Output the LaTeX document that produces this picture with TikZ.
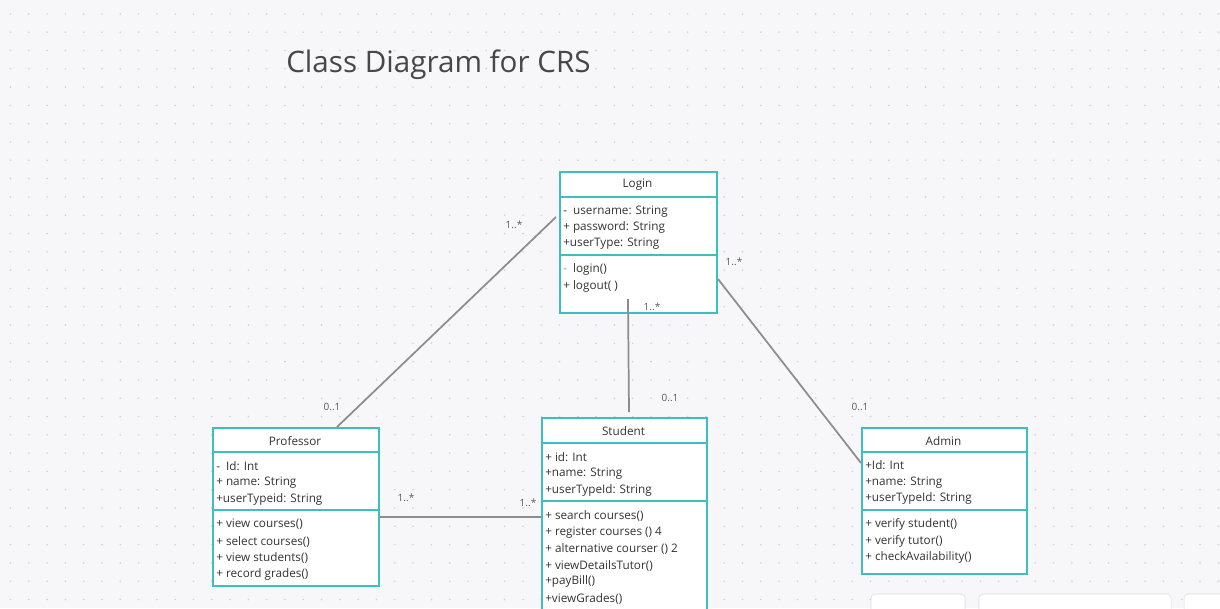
\documentclass[tikz,border=0pt]{standalone}
\usepackage{fontspec}
\setmainfont{Open Sans}
\definecolor{umlTeal}{HTML}{3DBFBF}
\definecolor{canvasGray}{HTML}{F7F7FA}
\definecolor{dotGray}{HTML}{D0D0D8}
\definecolor{linkGray}{HTML}{8C8C8C}
\definecolor{inkGray}{HTML}{333333}
\definecolor{toolGray}{HTML}{D8D8E6}
\begin{document}
\begin{tikzpicture}
[x=0.75pt,y=-0.75pt,%
  classDecorate/.style={draw=umlTeal,line width=1.5pt,fill=white,anchor=north west,inner sep=0pt},
  ruleDecorate/.style={draw=umlTeal,line width=1.5pt},
  titleDecorate/.style={text=inkGray,font=\fontsize{8.8}{10}\selectfont,inner sep=0pt},
  memberDecorate/.style={anchor=west,text=inkGray,font=\fontsize{8.8}{10}\selectfont,inner sep=0pt},
  lineDecorate/.style={-,draw=linkGray,line width=1.3pt},
  multDecorate/.style={text=black!65,font=\fontsize{7.5}{9}\selectfont,inner sep=0pt}]
\useasboundingbox (0,0) rectangle (1220,608);
\clip (0,0) rectangle (1220,608);
%% canvas and dot grid
\fill[canvasGray] (0,0) rectangle (1220,608);
\foreach \gx in {0,...,66}
  \foreach \gy in {0,...,32}
    \fill[dotGray] (10.5+18.3*\gx,13.9+18.3*\gy) circle (0.9);
\node (heading) at (286,65) [anchor=west,text=black!72,font=\fontsize{22.2}{26}\selectfont,inner sep=0pt] {Class Diagram for CRS};
%% classes
\foreach \nodename/\nodelabel/\x/\y/\w/\h/\hy/\sy in {
  login/Login/559/171/157/141/197/255,
  professor/Professor/212/427/166/158/452/510,
  student/Student/541/417/165/230/443/501,
  admin/Admin/861/427/165/146/452/510}
{
  \node (\nodename) at (\x,\y) [classDecorate,minimum width=\w*0.75pt,minimum height=\h*0.75pt] {};
  \node (\nodename-title) at (\x+\w/2,\y+14) [titleDecorate] {\nodelabel};
  \draw[ruleDecorate] (\nodename.west |- 0,\hy) -- (\nodename.east |- 0,\hy);
  \draw[ruleDecorate] (\nodename.west |- 0,\sy) -- (\nodename.east |- 0,\sy);
}
%% attributes and operations
\foreach \nodename/\x/\y/\entry in {
  login/563/210/- \ username: String, login/563/226/+ password: String,
  login/563/242/+userType: String, login/563/268/{\textcolor{black!40}{-}\ \ login()},
  login/563/285/+ logout( ),
  professor/216/465/- \ Id: Int, professor/216/481/+ name: String,
  professor/216/498/+userTypeid: String, professor/216/523/+ view courses(),
  professor/216/540/+ select courses(), professor/216/556/+ view students(),
  professor/216/573/+ record grades(),
  student/545/456/+ id: Int, student/545/472/+name: String,
  student/545/489/+userTypeId: String, student/545/514/+ search courses(),
  student/545/531/+ register courses () 4, student/545/547/+ alternative courser () 2,
  student/545/564/+ viewDetailsTutor(), student/545/580/+payBill(),
  student/545/597/+viewGrades(),
  admin/865/464/+Id: Int, admin/865/481/+name: String,
  admin/865/497/+userTypeId: String, admin/865/523/+ verify student(),
  admin/865/540/+ verify tutor(), admin/865/556/+ checkAvailability()}
{
  \node (\nodename-\y) at (\x,\y+1.5) [memberDecorate] {\entry};
}
%% associations
\draw[lineDecorate] ([shift={(-3,-25.5)}]login.west) -- ([shift={(41,0)}]professor.north);
\draw[lineDecorate] ([shift={(-10.5,-15)}]login.south) -- ([shift={(4.5,-5)}]student.north);
\draw[lineDecorate] ([shift={(0,36.5)}]login.east) -- ([shift={(0,-38)}]admin.west);
\draw[lineDecorate] ([shift={(0,10)}]professor.east) -- ([shift={(0,-16)}]student.west);
%% multiplicities
\foreach \nodename/\x/\y/\mult in {
  multLP/514/225/1..*, multPL/332/407/0..1,
  multLS/652/307/1..*, multSL/670/398/0..1,
  multLA/734/262/1..*, multAL/860/407/0..1,
  multPS/406/498/1..*, multSP/528/503/1..*}
{
  \node (\nodename) at (\x,\y) [multDecorate] {\mult};
}
%% toolbar remains at the bottom edge
\draw[toolGray,fill=white,rounded corners=3pt] (871,594) rectangle (965,630);
\draw[toolGray,fill=white,rounded corners=3pt] (979,594) rectangle (1171,630);
\draw[toolGray,fill=white,rounded corners=3pt] (1184,594) rectangle (1250,630);
\end{tikzpicture}
\end{document}
